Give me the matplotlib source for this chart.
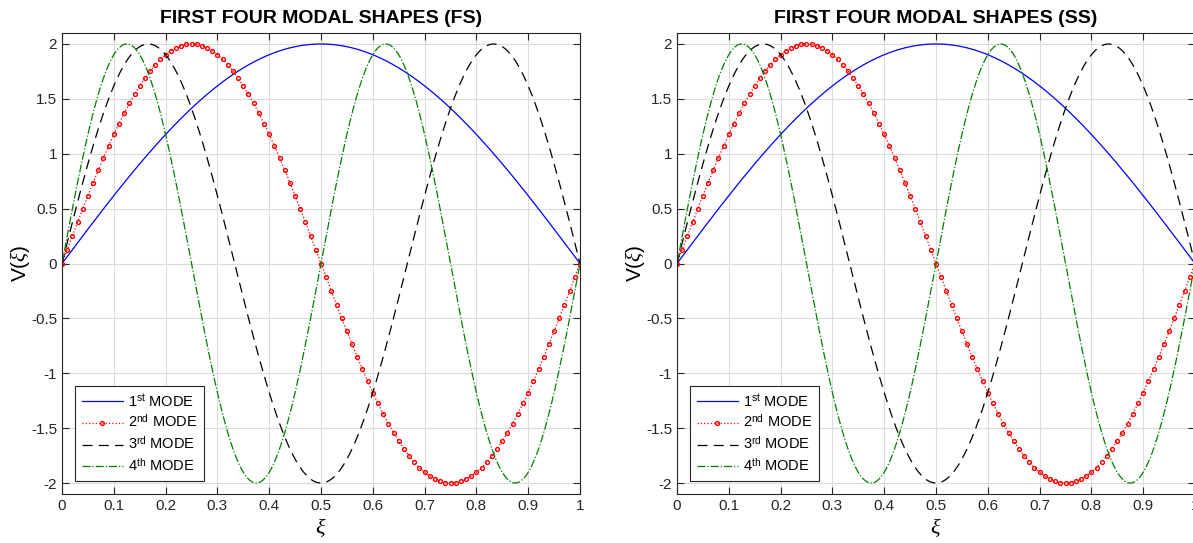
import numpy as np
import matplotlib
matplotlib.use("Agg")
import matplotlib.pyplot as plt

plt.rcParams['font.family'] = ['Liberation Sans', 'DejaVu Sans']
plt.rcParams['mathtext.fontset'] = 'custom'
plt.rcParams['mathtext.rm'] = 'Liberation Sans'
plt.rcParams['mathtext.it'] = 'Liberation Serif:italic'

# mode shapes V_n(xi) = A sin(n pi xi)
mode_numbers = [1, 2, 3, 4]
amplitude = 2.0
n_points = 101
titles = ['FIRST FOUR MODAL SHAPES (FS)', 'FIRST FOUR MODAL SHAPES (SS)']
labels = [r'1$^{\mathrm{st}}$ MODE', r'2$^{\mathrm{nd}}$ MODE',
          r'3$^{\mathrm{rd}}$ MODE', r'4$^{\mathrm{th}}$ MODE']
xticks = [0, 0.1, 0.2, 0.3, 0.4, 0.5, 0.6, 0.7, 0.8, 0.9, 1]
yticks = [-2, -1.5, -1, -0.5, 0, 0.5, 1, 1.5, 2]

styles = [
    dict(color='b', ls='-', lw=0.9),
    dict(color='r', ls=':', lw=0.9, marker='o', ms=2.8, mfc='none', mew=1.0),
    dict(color='k', ls=(0, (8, 5)), lw=0.9),
    dict(color=(0, 0.5, 0), ls='-.', lw=0.9),
]

xi = np.linspace(0, 1, n_points)
xi_fine = np.linspace(0, 1, 501)

fig = plt.figure(figsize=(11.93, 5.43), dpi=100)
positions = [[62/1193, 49/543, 518/1193, 461/543],
             [677/1193, 49/543, 518/1193, 461/543]]

for pos, title in zip(positions, titles):
    ax = fig.add_axes(pos)
    for n, lab, st in zip(mode_numbers, labels, styles):
        x = xi if 'marker' in st else xi_fine
        ax.plot(x, amplitude*np.sin(n*np.pi*x), label=lab, **st)
    ax.set_xlim(0, 1)
    ax.set_ylim(-2.1, 2.1)
    ax.set_xticks(xticks)
    ax.set_xticklabels([f'{t:g}' for t in xticks])
    ax.set_yticks(yticks)
    ax.set_yticklabels([f'{t:g}' for t in yticks])
    ax.grid(True, color='#dcdcdc', lw=0.8)
    ax.set_axisbelow(True)
    ax.tick_params(direction='in', top=True, right=True, labelsize=11,
                   colors='#262626', length=5, width=0.8)
    for s in ax.spines.values():
        s.set_color('#262626')
        s.set_linewidth(0.8)
    ax.set_title(title, fontsize=14, fontweight='bold', pad=7)
    ax.set_xlabel(r'$\xi$', fontsize=16, labelpad=2)
    ax.set_ylabel(r'V($\xi$)', fontsize=15, labelpad=-1)
    leg = ax.legend(loc='lower left', fontsize=10.5, handlelength=2.8,
                    fancybox=False, framealpha=1, edgecolor='#262626',
                    borderaxespad=0.9, labelspacing=0.3, handletextpad=0.4,
                    borderpad=0.45)
    leg.get_frame().set_linewidth(0.8)

fig.savefig('out.png', dpi=100)
